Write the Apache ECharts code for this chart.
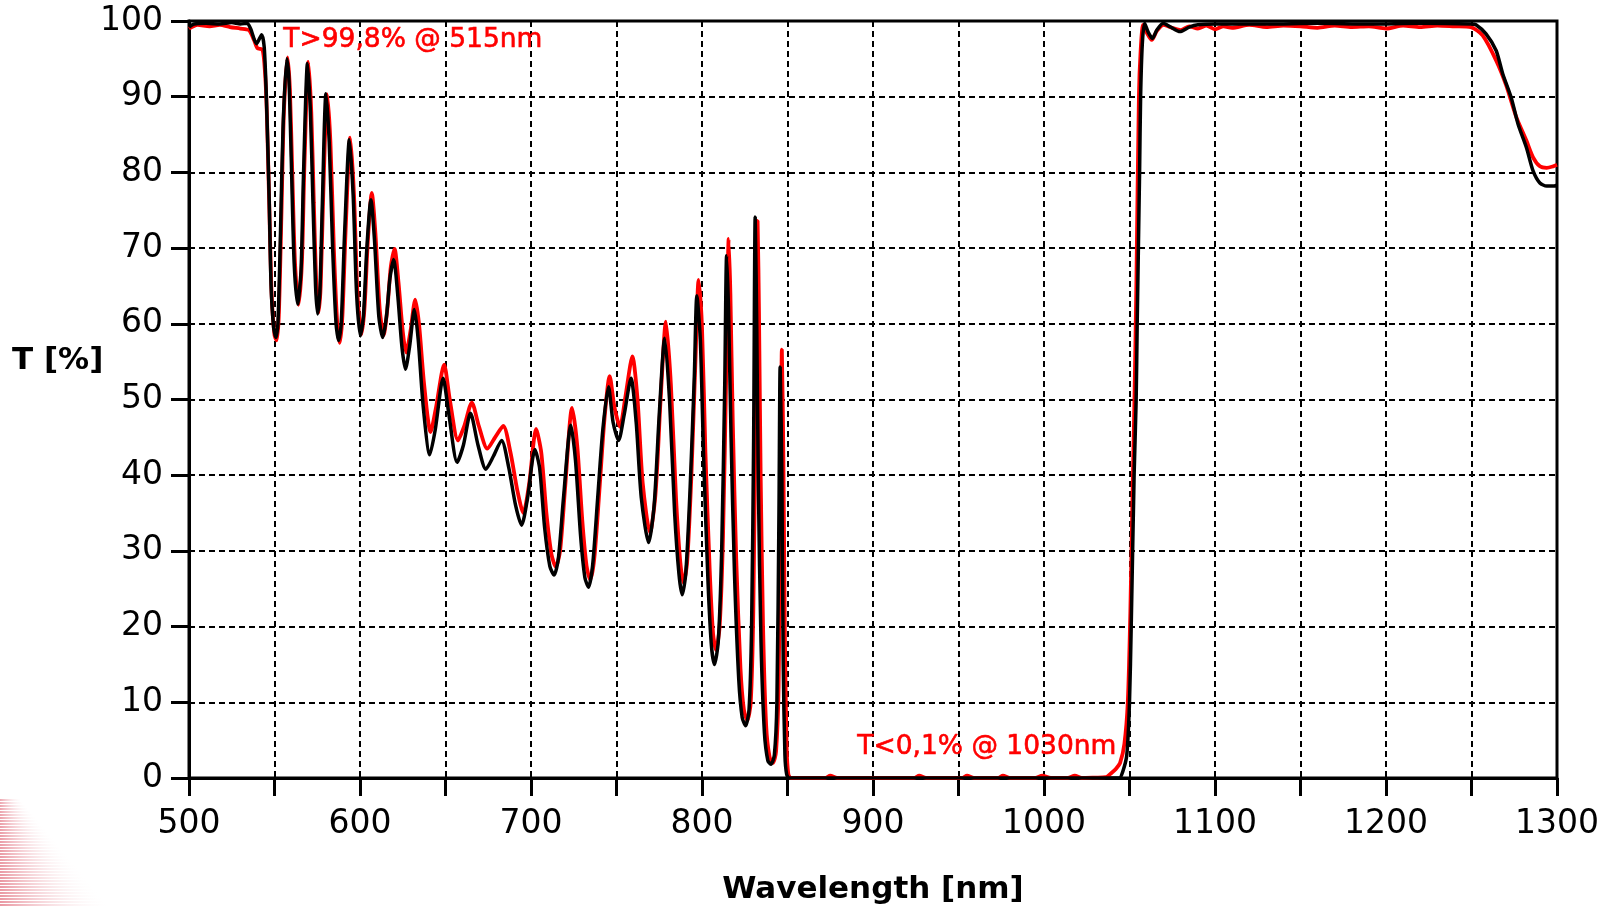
<!DOCTYPE html>
<html>
<head>
<meta charset="utf-8">
<script src="https://cdn.jsdelivr.net/npm/echarts@6/dist/echarts.min.js"></script>
<style>
html,body{margin:0;padding:0;background:#fff;}
#chart{width:1609px;height:907px;}
</style>
</head>
<body>
<div id="chart"></div>
<script>
// Tick labels
const xLabelValues = [500, 600, 700, 800, 900, 1000, 1100, 1200, 1300];
const yTickValues = [0, 10, 20, 30, 40, 50, 60, 70, 80, 90, 100];

// Annotations
const noteHigh = 'T>99,8% @ 515nm';
const noteLow = 'T<0,1% @ 1030nm';

// Black curve (wavelength nm, T %)
const blackCurve = [
  [500, 99.2], [503, 99.6], [510, 99.7], [518, 99.6], [525, 99.8], [530, 99.6], [534, 99.7],
  [536, 99.0], [539.5, 97.0], [542.5, 98.2], [544, 96.5], [545.3, 89.6], [546.9, 76.4], [548, 65],
  [549.5, 59.5], [550.8, 58.2], [552, 60], [553.5, 72], [555, 86], [557.2, 95.0], [558.5, 92],
  [560, 80], [561.5, 68], [563.5, 62.6], [565.5, 67], [567, 80], [569.3, 94.4], [571, 88],
  [572.5, 76], [574, 65], [575.2, 61.3], [576.5, 64], [578, 76], [580.1, 90.4], [582, 84],
  [584, 70], [586, 60], [587.5, 57.8], [589, 60], [591, 72], [593.8, 84.3], [596, 77],
  [598, 64], [600.2, 58.4], [602, 61], [604, 70], [606.4, 76.4], [608.5, 71], [611, 61],
  [613.3, 58.2], [615.5, 61], [617.5, 66], [619.7, 68.5], [622, 64], [624.5, 57], [626.6, 54],
  [629, 57], [631.8, 61.9], [634, 58], [637, 49], [640.8, 42.7], [644, 46], [648.6, 52.8],
  [652, 48], [656.8, 41.7], [660.5, 44], [664.6, 48.2], [669, 44], [673.6, 40.8], [678, 42.5],
  [682.8, 44.6], [687, 41], [691, 36], [694.5, 33.4], [698, 37], [702.3, 43.4], [705, 41],
  [708, 33], [711, 28], [713.5, 26.8], [716, 29], [719, 37], [723.3, 46.6], [726, 42],
  [729, 32], [731.5, 26.5], [733.6, 25.2], [736, 28], [739, 37], [742, 46], [745.3, 51.7],
  [748, 47], [751.2, 44.6], [754.5, 48], [758.5, 52.8], [761.5, 47], [764.5, 37], [768.8, 31.1],
  [772, 36], [775, 48], [778.2, 58.1], [781, 50], [784, 35], [786.5, 27], [788.4, 24.2],
  [790.5, 27], [793, 38], [795.5, 53], [797, 63.7], [799, 58], [801, 42], [803.5, 26],
  [805.5, 17.5], [807.3, 15.0], [809.5, 18], [811.5, 30], [813.3, 52], [814.4, 69], [815.5, 62],
  [817, 45], [819, 27], [821.5, 13], [823.5, 8], [825.5, 6.9], [827.5, 9], [829, 20],
  [830.2, 45], [831.1, 74.1], [832.0, 60], [833, 38], [834.5, 18], [836.5, 6], [838.5, 2.3],
  [840.3, 1.8], [842.3, 3], [843.8, 10], [845, 35], [845.7, 54.3], [846.7, 40], [847.5, 15],
  [848.5, 3], [849.5, 0.5], [851, 0], [950, 0], [1044, 0], [1046, 0.8], [1048.4, 3],
  [1050, 10], [1051, 20], [1052.7, 40], [1053.9, 50], [1054.5, 60], [1055.9, 80], [1056.5, 90],
  [1057.5, 97], [1058.8, 99.7], [1061, 98.5], [1063.4, 97.7], [1066, 98.8], [1069.7, 99.7],
  [1074, 99.2], [1079.5, 98.6], [1085, 99.2], [1090, 99.5], [1100, 99.6], [1130, 99.6],
  [1160, 99.7], [1190, 99.6], [1220, 99.7], [1250, 99.6], [1252.6, 99.5], [1258.5, 98.3],
  [1264.4, 96.1], [1268.3, 93], [1273.2, 89.9], [1277.2, 86.4], [1282.1, 83.3], [1286, 80.2],
  [1290, 78.6], [1294, 78.2], [1298.3, 78.2], [1300, 78.3]
];

// Red curve (wavelength nm, T %)
const redCurve = [
  [500, 99.0], [505, 99.5], [512, 99.3], [518, 99.5], [524, 99.2], [530, 99.0], [535, 98.8],
  [538, 97.5], [540, 96.4], [543, 96.2], [544.5, 93], [545.5, 88], [547, 75], [548.3, 64],
  [550, 58.5], [551.2, 57.8], [552.5, 61], [554, 74], [555.5, 88], [557.6, 95.2], [559, 91],
  [560.5, 79], [562, 68], [564, 62.5], [566, 68], [567.5, 81], [569.8, 94.6], [571.5, 88],
  [573, 76], [574.5, 65], [575.8, 61.5], [577, 65], [578.5, 77], [580.8, 90.3], [582.7, 84],
  [584.7, 70], [586.7, 60], [588.2, 57.5], [589.7, 61], [591.7, 73], [594.3, 84.6], [596.5, 77],
  [598.5, 64], [600.8, 58.6], [602.6, 62], [604.6, 71], [606.9, 77.3], [609, 72], [611.5, 62],
  [613.8, 58.5], [616, 62], [618, 67.5], [620.2, 69.9], [622.5, 65.5], [625, 59], [627, 56.2],
  [629.5, 59], [632.3, 63.2], [634.5, 60], [637.5, 52], [641.3, 45.7], [644.5, 49], [649.2, 54.6],
  [652.5, 50], [657.3, 44.6], [661, 46.5], [665.4, 49.6], [669.5, 46.5], [674.5, 43.5], [679, 45],
  [683.8, 46.5], [688, 43], [692, 38], [695.5, 35], [699, 39], [703, 46.1], [706, 43],
  [709, 35], [712, 29.5], [714.5, 27.9], [717, 30], [720, 38.5], [724, 48.9], [727, 44],
  [730, 34], [732.5, 28], [734.6, 26.2], [737, 29], [740, 38], [743, 47.5], [746, 53.1],
  [748.8, 49], [752, 46.4], [755.3, 50.5], [759.3, 55.7], [762.3, 50], [765.3, 39], [769.6, 32.4],
  [772.8, 37.5], [775.8, 50], [778.9, 60.3], [781.8, 52], [784.8, 37], [787.3, 28.5], [789.2, 25.8],
  [791.3, 28.5], [793.8, 40], [796.3, 56], [798, 65.8], [800, 59.5], [802, 43], [804.5, 27.5],
  [806.5, 19], [808.2, 16.9], [810.3, 20], [812.3, 32], [814.3, 55], [815.6, 71.2], [816.6, 64],
  [818, 47], [820, 29], [822.5, 14.5], [824.5, 9], [826.5, 7.6], [828.5, 10], [830, 22],
  [831.3, 48], [832.5, 73.6], [833.3, 62], [834.3, 40], [835.7, 20], [837.5, 7], [839.5, 2.8],
  [841.5, 2], [843.3, 3.5], [844.8, 12], [846, 38], [846.7, 56.6], [847.6, 42], [848.5, 18],
  [849.5, 4], [850.5, 0.5], [852, 0], [872, 0], [875, 0.3], [879, 0], [924, 0], [927, 0.3],
  [931, 0], [952, 0], [955, 0.3], [959, 0], [973, 0], [976, 0.3], [980, 0], [995, 0],
  [999, 0.3], [1004, 0], [1014, 0], [1018, 0.3], [1022, 0], [1030, 0.05], [1036, 0.1],
  [1039.6, 0.7], [1042, 1.2], [1044.5, 2], [1047, 4.5], [1049, 10], [1050.5, 22], [1052, 40],
  [1052.9, 50], [1054, 65], [1055.5, 90], [1056.5, 96], [1058, 99.5], [1060, 98.5], [1063, 97.5],
  [1066, 98.7], [1070, 99.5], [1075, 99.1], [1080, 98.8], [1085, 99.3], [1090, 99.0], [1095, 99.4],
  [1100, 98.9], [1105, 99.3], [1110, 99.1], [1120, 99.5], [1130, 99.2], [1140, 99.4], [1150, 99.3],
  [1160, 99.1], [1170, 99.4], [1180, 99.2], [1190, 99.3], [1200, 99.0], [1210, 99.4], [1220, 99.2],
  [1230, 99.4], [1240, 99.3], [1249.6, 99.2], [1256.5, 98.1], [1264.4, 94.8], [1270.3, 91.5],
  [1276.2, 87.3], [1282.1, 84.2], [1286, 82], [1290, 80.8], [1294, 80.6], [1297.8, 80.8], [1300, 81]
];

const chart = echarts.init(document.getElementById('chart'), null, {renderer: 'canvas'});
const FONT = 'DejaVu Sans';
const dash = [6, 4];

// decorative striped corner (logo fragment) at bottom-left
const corner = [];
for (let y = 800; y <= 906; y += 3) {
  const len = 20 + (y - 800) * 0.85;
  corner.push({
    type: 'line', silent: true, z: -10,
    shape: {x1: 0, y1: y, x2: len, y2: y},
    style: {
      lineWidth: 1.5,
      stroke: new echarts.graphic.LinearGradient(0, 0, 1, 0, [
        {offset: 0, color: 'rgba(215,60,80,0.75)'},
        {offset: 1, color: 'rgba(255,255,255,0)'}
      ])
    }
  });
}

chart.setOption({
  animation: false,
  backgroundColor: '#ffffff',
  grid: {
    left: 189, right: 52, top: 21, bottom: 129,
    outerBoundsMode: 'none', containLabel: false,
    show: true, borderColor: '#000', borderWidth: 3, backgroundColor: 'transparent'
  },
  xAxis: {
    type: 'value', min: 500, max: 1300, interval: 50,
    name: 'Wavelength [nm]', nameLocation: 'middle', nameGap: 96,
    nameTextStyle: {fontFamily: FONT, fontWeight: 'bold', fontSize: 31, color: '#000'},
    axisLine: {show: true, lineStyle: {color: '#000', width: 3}},
    axisTick: {show: true, inside: false, length: 18, lineStyle: {color: '#000', width: 3}},
    axisLabel: {
      customValues: xLabelValues,
      formatter: v => String(v),
      margin: 30, fontFamily: FONT, fontSize: 33, color: '#000'
    },
    splitLine: {show: true, lineStyle: {color: '#000', width: 2, type: dash}}
  },
  yAxis: {
    type: 'value', min: 0, max: 100, interval: 10,
    axisLine: {show: true, lineStyle: {color: '#000', width: 3}},
    axisTick: {show: true, inside: false, length: 18, lineStyle: {color: '#000', width: 3}},
    axisLabel: {
      customValues: yTickValues,
      formatter: v => String(v),
      margin: 26, fontFamily: FONT, fontSize: 33, color: '#000'
    },
    splitLine: {show: true, lineStyle: {color: '#000', width: 2, type: dash}}
  },
  graphic: corner.concat([
    {
      type: 'text', left: 12, top: 345, z: 10,
      style: {text: 'T [%]', fontFamily: FONT, fontWeight: 'bold', fontSize: 31, fill: '#000'}
    },
    {
      type: 'text', left: 283, top: 26, z: 10,
      style: {text: noteHigh, fontFamily: FONT, fontSize: 26.5, fill: '#ff0000', stroke: '#ff0000', lineWidth: 0.6}
    },
    {
      type: 'text', left: 857, top: 733, z: 10,
      style: {text: noteLow, fontFamily: FONT, fontSize: 26.5, fill: '#ff0000', stroke: '#ff0000', lineWidth: 0.6}
    }
  ]),
  series: [
    {
      name: 'Measured', type: 'line', data: redCurve, showSymbol: false, symbol: 'none',
      smooth: 0.25, clip: true,
      lineStyle: {color: '#ff0000', width: 3.8}, z: 3
    },
    {
      name: 'Design', type: 'line', data: blackCurve, showSymbol: false, symbol: 'none',
      smooth: 0.25, clip: true,
      lineStyle: {color: '#000000', width: 3.5}, z: 4
    }
  ]
});
</script>
</body>
</html>
